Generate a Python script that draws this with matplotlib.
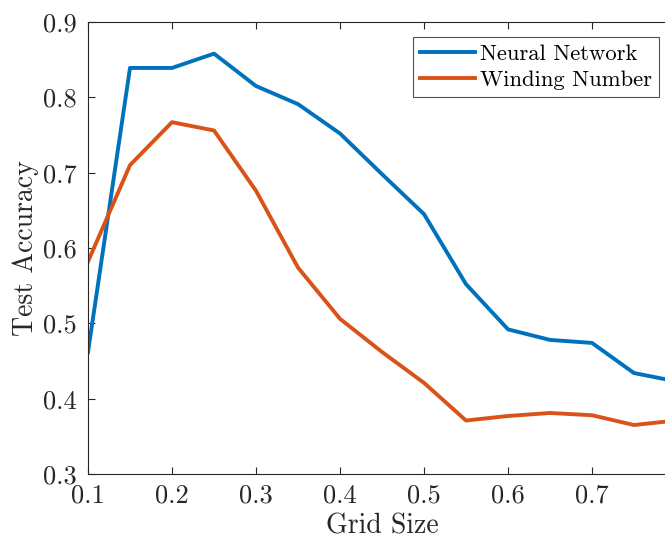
import matplotlib.pyplot as plt

# Test accuracy against grid size for the two classifiers
grid_size = [0.10, 0.15, 0.20, 0.25, 0.30, 0.35, 0.40, 0.45, 0.50, 0.55, 0.60, 0.65, 0.70, 0.75, 0.80]
neural_net = [0.462, 0.839, 0.839, 0.858, 0.815, 0.791, 0.752, 0.698, 0.645, 0.552, 0.492, 0.478, 0.474, 0.434, 0.423]
winding_num = [0.582, 0.710, 0.767, 0.756, 0.676, 0.574, 0.506, 0.462, 0.421, 0.371, 0.377, 0.381, 0.378, 0.365, 0.371]

plt.rcParams['font.family'] = ['cmr10', 'DejaVu Serif']
plt.rcParams['axes.formatter.use_mathtext'] = True
plt.rcParams['mathtext.fontset'] = 'cm'

fig = plt.figure(figsize=(6.65, 5.4), dpi=100)
# axes run slightly past the right edge of the figure
ax = fig.add_axes([88 / 665, 66 / 540, 588 / 665, 452 / 540])

ax.plot(grid_size, neural_net, color=(0, 0.447, 0.741), lw=2.8, label='Neural Network')
ax.plot(grid_size, winding_num, color=(0.85, 0.325, 0.098), lw=2.8, label='Winding Number')

ax.set_xlim(0.1, 0.8)
ax.set_ylim(0.3, 0.9)
ax.set_xticks([0.1, 0.2, 0.3, 0.4, 0.5, 0.6, 0.7])
ax.set_yticks([0.3, 0.4, 0.5, 0.6, 0.7, 0.8, 0.9])
ax.set_xticklabels(['0.1', '0.2', '0.3', '0.4', '0.5', '0.6', '0.7'])
ax.set_yticklabels(['0.3', '0.4', '0.5', '0.6', '0.7', '0.8', '0.9'])
ax.tick_params(direction='in', top=True, right=True, length=5, width=0.8,
               labelsize=19, colors=(0.15, 0.15, 0.15))
ax.tick_params(axis='x', pad=7)
ax.tick_params(axis='y', pad=8)
for s in ax.spines.values():
    s.set_color((0.15, 0.15, 0.15))
    s.set_linewidth(0.8)

ax.set_xlabel('Grid Size', fontsize=20, color=(0.15, 0.15, 0.15), labelpad=4)
ax.set_ylabel('Test Accuracy', fontsize=20, color=(0.15, 0.15, 0.15), labelpad=3)

leg = ax.legend(loc='upper right', bbox_to_anchor=(659 / 665, 1 - 37 / 540),
                bbox_transform=fig.transFigure, borderaxespad=0, fontsize=16.3,
                fancybox=False, edgecolor=(0.15, 0.15, 0.15), handlelength=2.4,
                handletextpad=0.25, borderpad=0.3, labelspacing=0.3)
leg.get_frame().set_linewidth(0.8)

fig.savefig('out.png', dpi=100)
